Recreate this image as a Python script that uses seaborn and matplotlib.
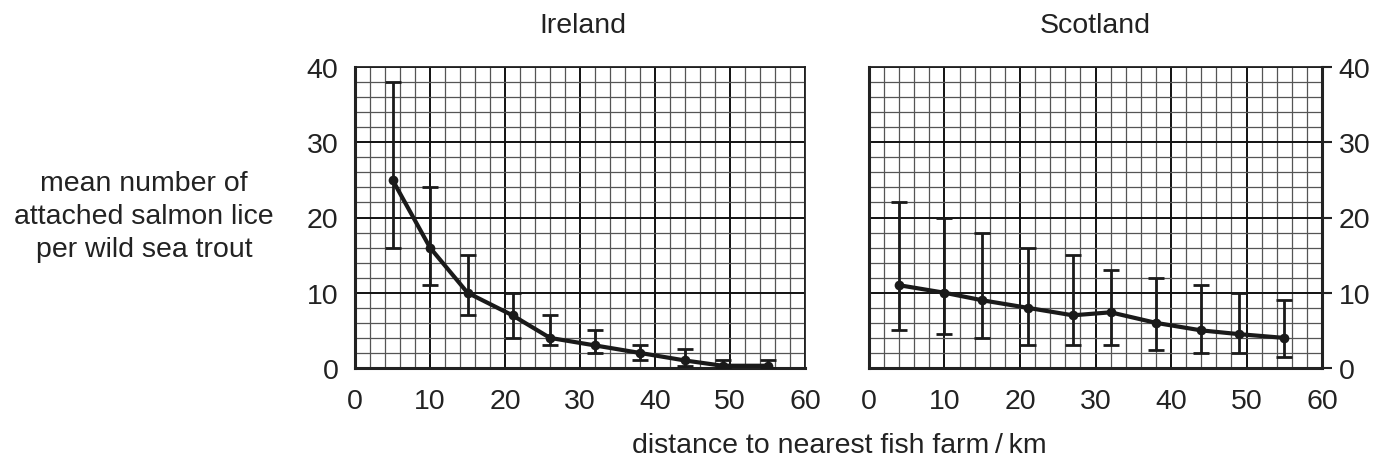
import matplotlib
matplotlib.use("Agg")
import matplotlib.pyplot as plt
import seaborn as sns
import pandas as pd
import numpy as np
from matplotlib.ticker import MultipleLocator

# Data
ireland_x = [5, 10, 15, 21, 26, 32, 38, 44, 49, 55]
ireland_mean = [25, 16, 10, 7, 4, 3, 2, 1, 0.3, 0.3]
ireland_low = [16, 11, 7, 4, 3, 2, 1, 0.3, 0, 0]
ireland_high = [38, 24, 15, 10, 7, 5, 3, 2.5, 1, 1]

scotland_x = [4, 10, 15, 21, 27, 32, 38, 44, 49, 55]
scotland_mean = [11, 10, 9, 8, 7, 7.4, 6, 5, 4.5, 4]
scotland_low = [5, 4.5, 4, 3, 3, 3, 2.4, 2, 2, 1.5]
scotland_high = [22, 20, 18, 16, 15, 13, 12, 11, 10, 9]

titles = ["Ireland", "Scotland"]
x_ticks = [0, 10, 20, 30, 40, 50, 60]
y_ticks = [0, 10, 20, 30, 40]

FS = 20.5

sns.set_theme(style="white")
plt.rcParams['font.family'] = ['Liberation Sans', 'DejaVu Sans']
plt.rcParams['font.size'] = FS

fig = plt.figure(figsize=(13.73, 4.6), dpi=100)
ax1 = fig.add_axes([355/1373, 91/460, 450/1373, 301/460])
ax2 = fig.add_axes([869/1373, 91/460, 453/1373, 301/460])

datasets = [
    (ax1, ireland_x, ireland_mean, ireland_low, ireland_high),
    (ax2, scotland_x, scotland_mean, scotland_low, scotland_high),
]

for i, (ax, xs, m, lo, hi) in enumerate(datasets):
    ax.set_xlim(0, 60)
    ax.set_ylim(0, 40)
    ax.xaxis.set_major_locator(MultipleLocator(10))
    ax.yaxis.set_major_locator(MultipleLocator(10))
    ax.xaxis.set_minor_locator(MultipleLocator(2))
    ax.yaxis.set_minor_locator(MultipleLocator(2))
    ax.grid(which='minor', color='#555555', linewidth=0.9, zorder=0)
    ax.grid(which='major', color='#111111', linewidth=1.4, zorder=0)
    ax.set_axisbelow(True)
    ax.set_xticks(x_ticks)
    ax.set_yticks(y_ticks)
    ax.tick_params(which='minor', length=0)
    ax.tick_params(which='major', direction='out', length=7, width=1.5,
                   color='#222222', labelsize=FS, labelcolor='#222222')
    ax.tick_params(axis='x', pad=7.5)
    ax.tick_params(axis='y', pad=5)
    for s in ax.spines.values():
        s.set_color('#222222')
        s.set_linewidth(1.3)
    ax.spines['bottom'].set_linewidth(2.2)
    ax.spines['left'].set_linewidth(2.2)
    if i == 1:
        ax.spines['right'].set_linewidth(2.2)
        ax.yaxis.tick_right()
        ax.tick_params(axis='y', which='major', left=False, right=True)

    m_arr = np.array(m)
    yerr = np.vstack([m_arr - np.array(lo), np.array(hi) - m_arr])
    ax.errorbar(xs, m, yerr=yerr, fmt='none', ecolor='#1a1a1a',
                elinewidth=2, capsize=5.5, capthick=2, zorder=3)
    df = pd.DataFrame({'x': xs, 'y': m})
    sns.lineplot(data=df, x='x', y='y', ax=ax, color='#1a1a1a', linewidth=3,
                 marker='o', markersize=7, markeredgewidth=0, zorder=4)
    ax.set_xlabel('')
    ax.set_ylabel('')

fig.text(583/1373, 1 - 26/460, titles[0], ha='center', va='center',
         fontsize=FS, color='#222222')
fig.text(1095/1373, 1 - 26/460, titles[1], ha='center', va='center',
         fontsize=FS, color='#222222')
fig.text(144/1373, 1 - 217/460,
         "mean number of\nattached salmon lice\nper wild sea trout",
         ha='center', va='center', fontsize=FS, color='#222222',
         linespacing=1.37)
fig.text(839/1373, 1 - 446/460, "distance to nearest fish farm\u2009/\u2009km",
         ha='center', va='center', fontsize=FS, color='#222222')

fig.savefig("out.png", dpi=100)
